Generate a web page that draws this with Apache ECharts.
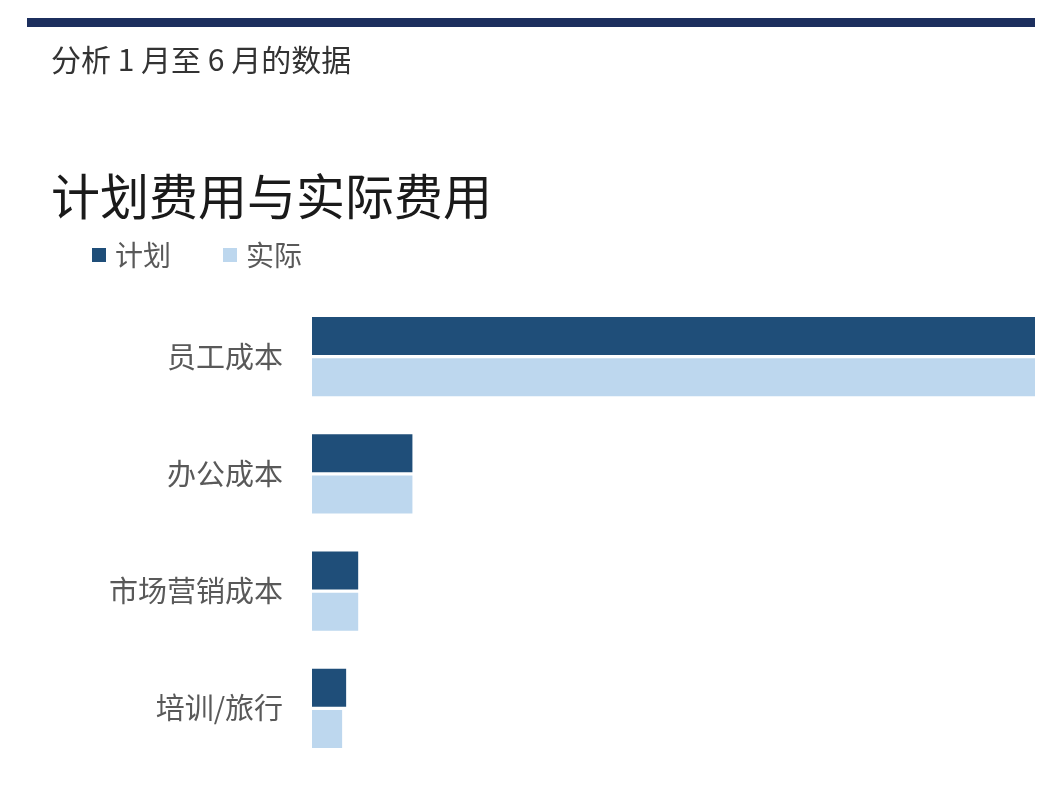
<!DOCTYPE html>
<html>
<head>
<meta charset="utf-8">
<script src="https://cdn.jsdelivr.net/npm/echarts@6/dist/echarts.min.js"></script>
<style>
html,body{margin:0;padding:0;background:#fff;}
#c{width:1038px;height:800px;}
</style>
</head>
<body>
<div id="c"></div>
<script>
const categories = ['员工成本', '办公成本', '市场营销成本', '培训/旅行'];
const planned = [36000, 5000, 2300, 1700];
const actual = [36000, 5000, 2300, 1500];
const seriesNames = ['计划', '实际'];

const font = '"Noto Sans CJK SC", "Noto Sans", sans-serif';
const chart = echarts.init(document.getElementById('c'));
chart.setOption({
  backgroundColor: '#ffffff',
  animation: false,
  textStyle: { fontFamily: font },
  graphic: [{
    type: 'rect',
    shape: { x: 27, y: 18, width: 1008, height: 9 },
    style: { fill: '#1c2f5e' }
  }],
  title: [{
    text: '分析 1 月至 6 月的数据',
    left: 46, top: 40,
    textStyle: { fontFamily: font, fontSize: 30, fontWeight: 'normal', color: '#333333' }
  }, {
    text: '计划费用与实际费用',
    left: 46, top: 167,
    textStyle: { fontFamily: font, fontSize: 49, fontWeight: 'normal', color: '#1a1a1a' }
  }],
  legend: {
    left: 92, top: 241,
    padding: 0,
    itemWidth: 14, itemHeight: 14,
    itemGap: 52,
    icon: 'rect',
    data: seriesNames,
    textStyle: { fontFamily: font, fontSize: 28, color: '#595959', padding: [0, 0, 0, 4] }
  },
  grid: { left: 312, right: 3, top: 298, bottom: 33, containLabel: false },
  xAxis: {
    type: 'value', min: 0, max: 36000,
    show: false,
    splitLine: { show: false }
  },
  yAxis: {
    type: 'category', inverse: true,
    data: categories,
    axisLine: { show: false },
    axisTick: { show: false },
    axisLabel: { fontFamily: font, fontSize: 29, color: '#595959', margin: 29 }
  },
  series: [{
    name: seriesNames[0], type: 'bar', data: planned,
    barWidth: 38, barGap: '8%',
    itemStyle: { color: '#1f4e79' }
  }, {
    name: seriesNames[1], type: 'bar', data: actual,
    barWidth: 38,
    itemStyle: { color: '#bdd7ee' }
  }]
});
</script>
</body>
</html>
